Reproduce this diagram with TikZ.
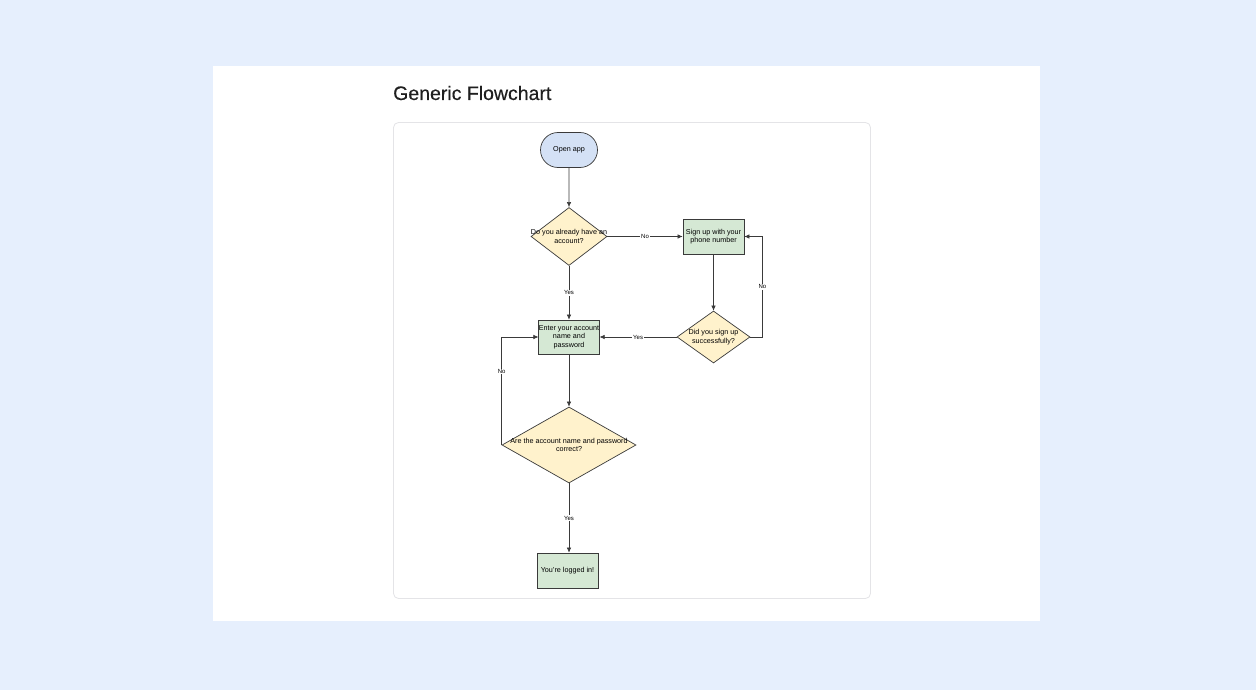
\documentclass[tikz,border=0pt]{standalone}
\usepackage{xcolor}
\usepackage{fontspec}
\setmainfont{Liberation Sans}
\newfontfamily\titlefont[FakeBold=0.35]{Liberation Sans}
\usepackage{tikz}
\usetikzlibrary{shapes.geometric, shapes.misc, arrows.meta}

\definecolor{pagebg}{HTML}{E6EFFD}
\definecolor{cardline}{HTML}{E4E4E7}
\definecolor{startfill}{HTML}{D4E1F5}
\definecolor{askfill}{HTML}{FFF2CC}
\definecolor{stepfill}{HTML}{D5E8D4}
\definecolor{edgeline}{HTML}{3A3A3A}

\tikzset{
  startbox/.style={rounded rectangle, draw=edgeline, fill=startfill, line width=0.7pt,
    minimum width=57pt, minimum height=35pt, inner sep=0pt, font=\fontsize{7.2}{8.6}\selectfont},
  stepbox/.style={rectangle, draw=edgeline, fill=stepfill, line width=0.7pt,
    minimum width=61pt, minimum height=35pt, inner sep=0pt, align=center,
    font=\fontsize{7.2}{8.6}\selectfont},
  askbox/.style={diamond, draw=edgeline, fill=askfill, line width=0.7pt, inner sep=0pt},
  asktext/.style={align=center, font=\fontsize{7.2}{8.6}\selectfont},
  flow/.style={draw=edgeline, line width=0.6pt, -{Latex[length=5pt,width=4.5pt]}},
  lbl/.style={fill=white, inner sep=0.8pt, font=\fontsize{6}{7}\selectfont}
}

\begin{document}
\begin{tikzpicture}[x=1pt, y=-1pt]
  % Page background, white panel and card
  \fill[pagebg] (0,0) rectangle (1256,690);
  \fill[white] (213,66) rectangle (1040,621);
  \draw[cardline, line width=0.8pt, rounded corners=5pt] (393.5,122.5) rectangle (870.5,598.5);
  \useasboundingbox (0,0) rectangle (1256,690);

  % Title
  \node[anchor=west, inner sep=0pt, text=black!88, font=\titlefont\fontsize{19.5}{22}\selectfont] (title) at (393,93) {Generic Flowchart};

  % Start and the first question
  \node[startbox] (open) at (569,150) {Open app};
  \node[askbox, minimum width=76pt, minimum height=58pt,
    label={[asktext]center:Do you already have an\\account?}] (ask) at (569,236.5) {};

  % Sign-up branch
  \node[stepbox] (signup) at (713.5,236.5) {Sign up with your\\phone number};
  \node[askbox, minimum width=73pt, minimum height=52pt,
    label={[asktext]center:Did you sign up\\successfully?}] (chk) at (713.5,337) {};

  % Log-in branch
  \node[stepbox, minimum width=60pt, minimum height=34pt] (enter) at (569,337) {Enter your account\\name and\\password};
  \node[askbox, minimum width=134pt, minimum height=76pt,
    label={[asktext]center:Are the account name and password\\correct?}] (verify) at (569,445) {};
  \node[stepbox] (done) at (567.5,570.5) {You're logged in!};

  % Connectors
  \draw[flow] (open) -- (ask);
  \draw[flow] (ask.east) -- node[lbl] {No} (signup.west);
  \draw[flow] (ask) -- node[lbl] {Yes} (enter);
  \draw[flow] (signup) -- (chk);
  \draw[flow] (chk.east) -- ++(12,0) |- node[pos=0.25, lbl] {No} (signup.east);
  \draw[flow] (chk) -- node[lbl] {Yes} (enter);
  \draw[flow] (enter) -- (verify);
  \draw[flow] (verify.west) |- node[pos=0.34, lbl] {No} (enter.west);
  \draw[flow] (verify.south) -- node[lbl] {Yes} (done.north -| verify.south);
\end{tikzpicture}
\end{document}
